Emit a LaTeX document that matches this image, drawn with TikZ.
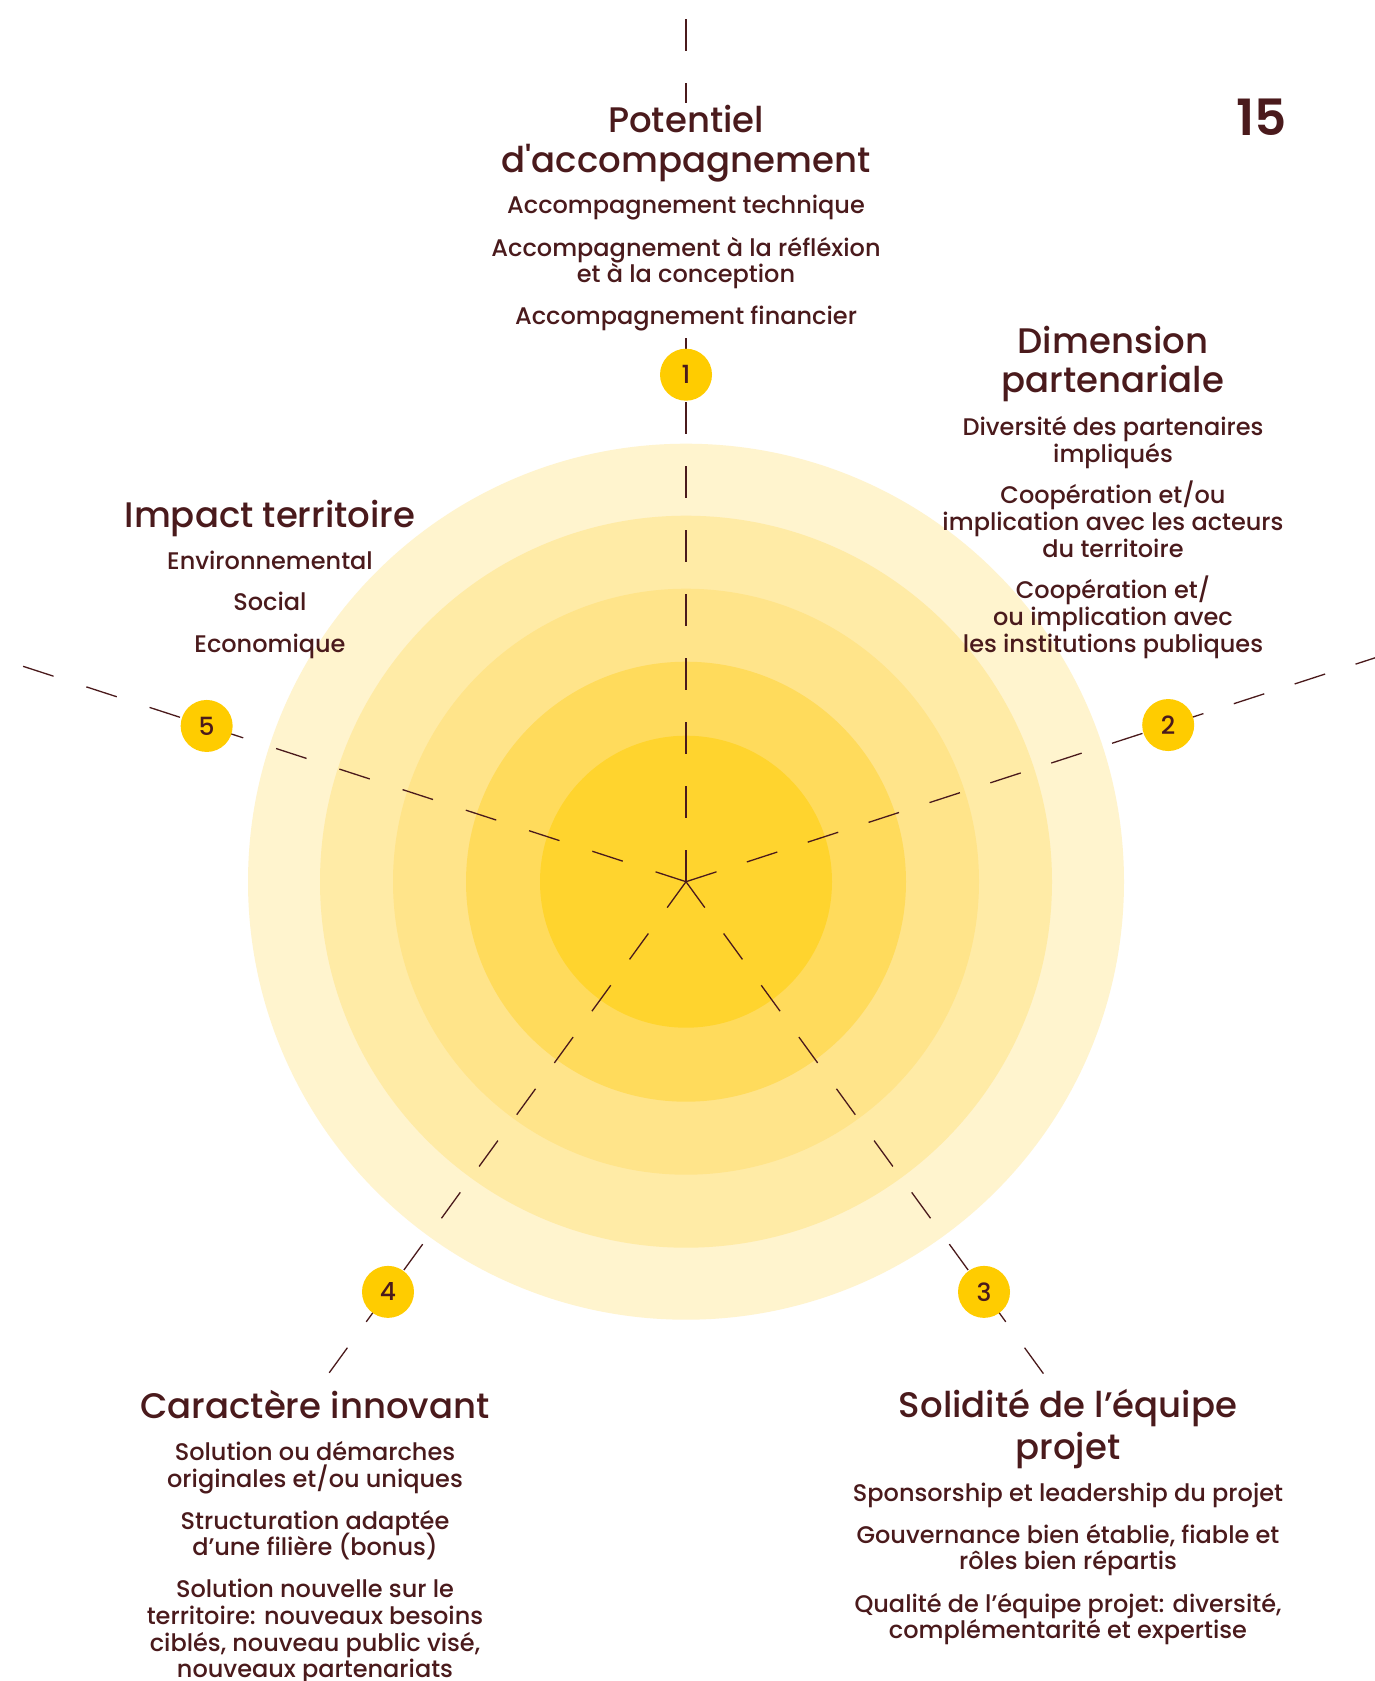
\documentclass[tikz,border=0pt]{standalone}
\usepackage{fontspec}
\newfontfamily\popfont{Poppins}[UprightFont=* Medium]
\newfontfamily\popsemi{Poppins}[UprightFont=* SemiBold]
\usepackage{tikz}
\definecolor{ink}{HTML}{4A1A1C}
\definecolor{gold}{HTML}{FFCC00}
\definecolor{ringa}{HTML}{FFF4CE}
\definecolor{ringb}{HTML}{FFEBA6}
\definecolor{ringc}{HTML}{FFE48A}
\definecolor{ringd}{HTML}{FFDB5C}
\definecolor{ringe}{HTML}{FFD42E}
\tikzstyle{spoke}=[draw=ink, line width=1.3pt]
\tikzstyle{badge}=[shape=circle, fill=gold, minimum size=52pt, inner sep=0pt, text=ink, font=\popfont\fontsize{25}{25}\selectfont]
\tikzstyle{ttl}=[anchor=base, inner sep=0pt, text=ink, font=\popfont\fontsize{35.5}{40}\selectfont]
\tikzstyle{itm}=[anchor=base, inner sep=0pt, text=ink, font=\popfont\fontsize{24}{26}\selectfont]

\begin{document}
\begin{tikzpicture}[x=1pt, y=-1pt]
    \fill[white] (0,0) rectangle (1375,1681);
    \useasboundingbox (0,0) rectangle (1375,1681);
    \coordinate (c) at (686,881.7);

    % rings
    \foreach \r/\col in {438/ringa, 366/ringb, 293/ringc, 220/ringd, 146/ringe}
        \fill[\col] (c) circle[radius=\r];

    % spokes
    \foreach \a/\l/\g [count=\i] in {-90/545.7/32pt, -18/740/32pt, 54/608/32pt, 126/607/32pt, 198/697/34.5pt}
    {
        \path (c) ++(\a:\l) coordinate (e\i);
        \draw[spoke, dash pattern=on 32pt off \g] (c) -- (e\i);
    }
    \coordinate (top) at (686,19);
    \coordinate (topend) at (686,103);
    \draw[spoke, dash pattern=on 32pt off 32pt] (top) -- (topend);

    % badges
    \foreach \a/\d [count=\i] in {-90/507, -18/507, 54/507, 126/507, 198/504}
        \path (c) ++(\a:\d) node[badge] (b\i) {\i};

    \node[anchor=base, inner sep=0pt, text=ink, font=\popsemi\fontsize{50}{50}\selectfont] (page) at (1262,135) {15};

    % 1
    \foreach \y/\t [count=\n] in {132/Potentiel, 172/d'accompagnement}
        \node[ttl] (h1-\n) at (686,\y) {\t};
    \foreach \y/\t [count=\n] in {213/Accompagnement technique, 256/Accompagnement à la réfléxion,
        282/et à la conception, 324/Accompagnement financier}
        \node[itm] (l1-\n) at (686,\y) {\t};

    % 2
    \foreach \y/\t [count=\n] in {353/Dimension, 392/partenariale}
        \node[ttl] (h2-\n) at (1113,\y) {\t};
    \foreach \y/\t [count=\n] in {435/Diversité des partenaires, 462/impliqués,
        503/{Coopération et/ou}, 530/implication avec les acteurs, 557/du territoire,
        598/{Coopération et/}, 625/ou implication avec, 652/les institutions publiques}
        \node[itm] (l2-\n) at (1113,\y) {\t};

    % 3
    \foreach \y/\t [count=\n] in {1417/Solidité de l’équipe, 1459/projet}
        \node[ttl] (h3-\n) at (1068,\y) {\t};
    \foreach \y/\t [count=\n] in {1501/Sponsorship et leadership du projet,
        1543/{Gouvernance bien établie, fiable et}, 1569/rôles bien répartis,
        1612/{Qualité de l’équipe projet: diversité,}, 1638/complémentarité et expertise}
        \node[itm] (l3-\n) at (1068,\y) {\t};

    % 4
    \node[ttl] (h4-1) at (315,1418) {Caractère innovant};
    \foreach \y/\t [count=\n] in {1460/Solution ou démarches, 1487/{originales et/ou uniques},
        1529/Structuration adaptée, 1555/d’une filière (bonus),
        1597/Solution nouvelle sur le, 1624/territoire: nouveaux besoins,
        1651/{ciblés, nouveau public visé,}, 1677/nouveaux partenariats}
        \node[itm] (l4-\n) at (315,\y) {\t};

    % 5
    \node[ttl] (h5-1) at (270,527) {Impact territoire};
    \foreach \y/\t [count=\n] in {569/Environnemental, 610/Social, 652/Economique}
        \node[itm] (l5-\n) at (270,\y) {\t};
\end{tikzpicture}
\end{document}
